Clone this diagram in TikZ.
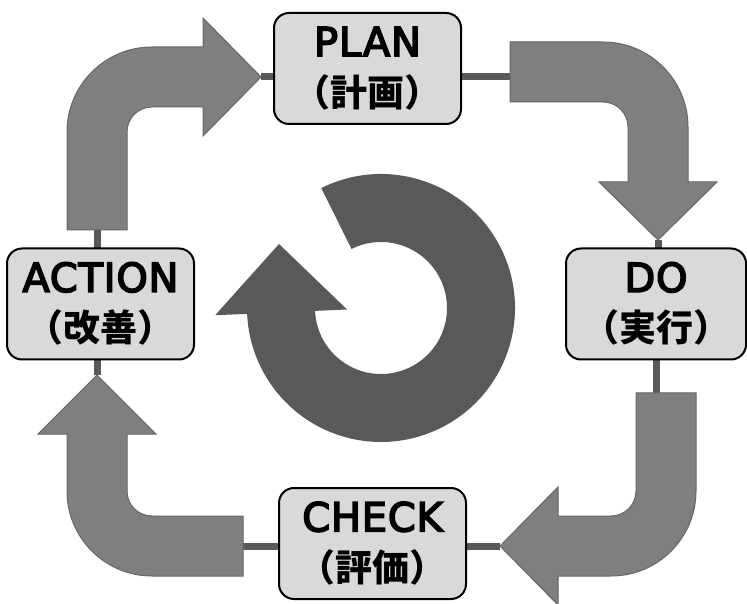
\documentclass[tikz,border=0pt]{standalone}
\usepackage{fontspec}
\setmainfont{Noto Sans CJK JP}
\newfontfamily\latinfont{DejaVu Sans}[Scale = 1.08, LetterSpace = 2,
	BoldFont = DejaVu Sans, BoldFeatures = {FakeBold = 4}]
\usetikzlibrary{backgrounds}

\definecolor{ringgray}{HTML}{595959}
\definecolor{arrowgray}{HTML}{7F7F7F}
\definecolor{arrowline}{HTML}{666666}
\definecolor{boxgray}{HTML}{D9D9D9}

\tikzset{
	stage/.style = {draw = black, line width = 2pt, fill = boxgray, rounded corners = 15pt,
		minimum width = 187pt, minimum height = 111pt, align = center, inner sep = 0pt,
		font = \fontsize{37}{50}\selectfont\bfseries},
	link/.style = {draw = ringgray, line width = 7pt},
	turn/.style = {fill = arrowgray, draw = arrowline, line width = 1pt}
}

\begin{document}
\begin{tikzpicture}[x = 1pt, y = 1pt]

	\useasboundingbox (0, 0) rectangle (747, 603);

	% Stages

	\node [stage] (plan) at (367.5, 534.5) {{\latinfont PLAN}\\（計画）};
	\node [stage, minimum width = 180pt] (do) at (656, 299) {{\latinfont DO}\\（実行）};
	\node [stage] (check) at (372.5, 59.5) {{\latinfont CHECK}\\（評価）};
	\node [stage] (action) at (100.5, 299) {{\latinfont ACTION}\\（改善）};

	% Bent arrows

	\filldraw [turn] (67, 373) -- (67, 471) arc [start angle = 180, end angle = 90, radius = 85]
		-- (203, 556) -- (203, 585) -- (261, 526) -- (203, 467) -- (203, 496) -- (152, 496)
		arc [start angle = 90, end angle = 180, radius = 25] -- (127, 373) -- cycle;
	\filldraw [turn] (510, 561) -- (603, 561) arc [start angle = 90, end angle = 0, radius = 85]
		-- (688, 421) -- (717, 421) -- (658, 363) -- (599, 421) -- (628, 421) -- (628, 476)
		arc [start angle = 0, end angle = 90, radius = 25] -- (510, 501) -- cycle;
	\filldraw [turn] (696, 210) -- (696, 112) arc [start angle = 0, end angle = -90, radius = 85]
		-- (558, 27) -- (558, -2) -- (500, 57) -- (558, 116) -- (558, 87) -- (611, 87)
		arc [start angle = -90, end angle = 0, radius = 25] -- (636, 210) -- cycle;
	\filldraw [turn] (243, 87) -- (152, 87) arc [start angle = -90, end angle = -180, radius = 25]
		-- (127, 169) -- (156, 169) -- (97, 228) -- (38, 169) -- (67, 169) -- (67, 112)
		arc [start angle = 180, end angle = 270, radius = 85] -- (243, 27) -- cycle;

	\coordinate (tl end) at (97, 373);
	\coordinate (tl tip) at (261, 526);
	\coordinate (tr start) at (510, 526);
	\coordinate (tr tip) at (658, 363);
	\coordinate (br start) at (656, 210);
	\coordinate (br tip) at (500, 57);
	\coordinate (bl start) at (243, 57);
	\coordinate (bl tip) at (97, 228);

	% Cycle in the middle

	\fill [ringgray] ([shift = {(381, 295)}] 116.5 : 134)
		arc [start angle = 116.5, end angle = -177.5, radius = 134]
		-- ([shift = {(381, 295)}] -177.5 : 166) -- (279, 359)
		-- ([shift = {(381, 295)}] -177.5 : 34) -- ([shift = {(381, 295)}] -177.5 : 66)
		arc [start angle = -177.5, end angle = 116.5, radius = 66] -- cycle;

	% Links

	\begin{scope}[on background layer]

		\draw [link] (tl tip) -- (tl tip -| plan.center);
		\draw [link] (plan.center |- tr start) -- (tr start);
		\draw [link] (tr tip) -- (tr tip |- do.center);
		\draw [link] (do.center -| br start) -- (br start);
		\draw [link] (br tip) -- (br tip -| check.center);
		\draw [link] (check.center |- bl start) -- (bl start);
		\draw [link] (bl tip) -- (bl tip |- action.center);
		\draw [link] (action.center -| tl end) -- (tl end);

	\end{scope}

\end{tikzpicture}
\end{document}
